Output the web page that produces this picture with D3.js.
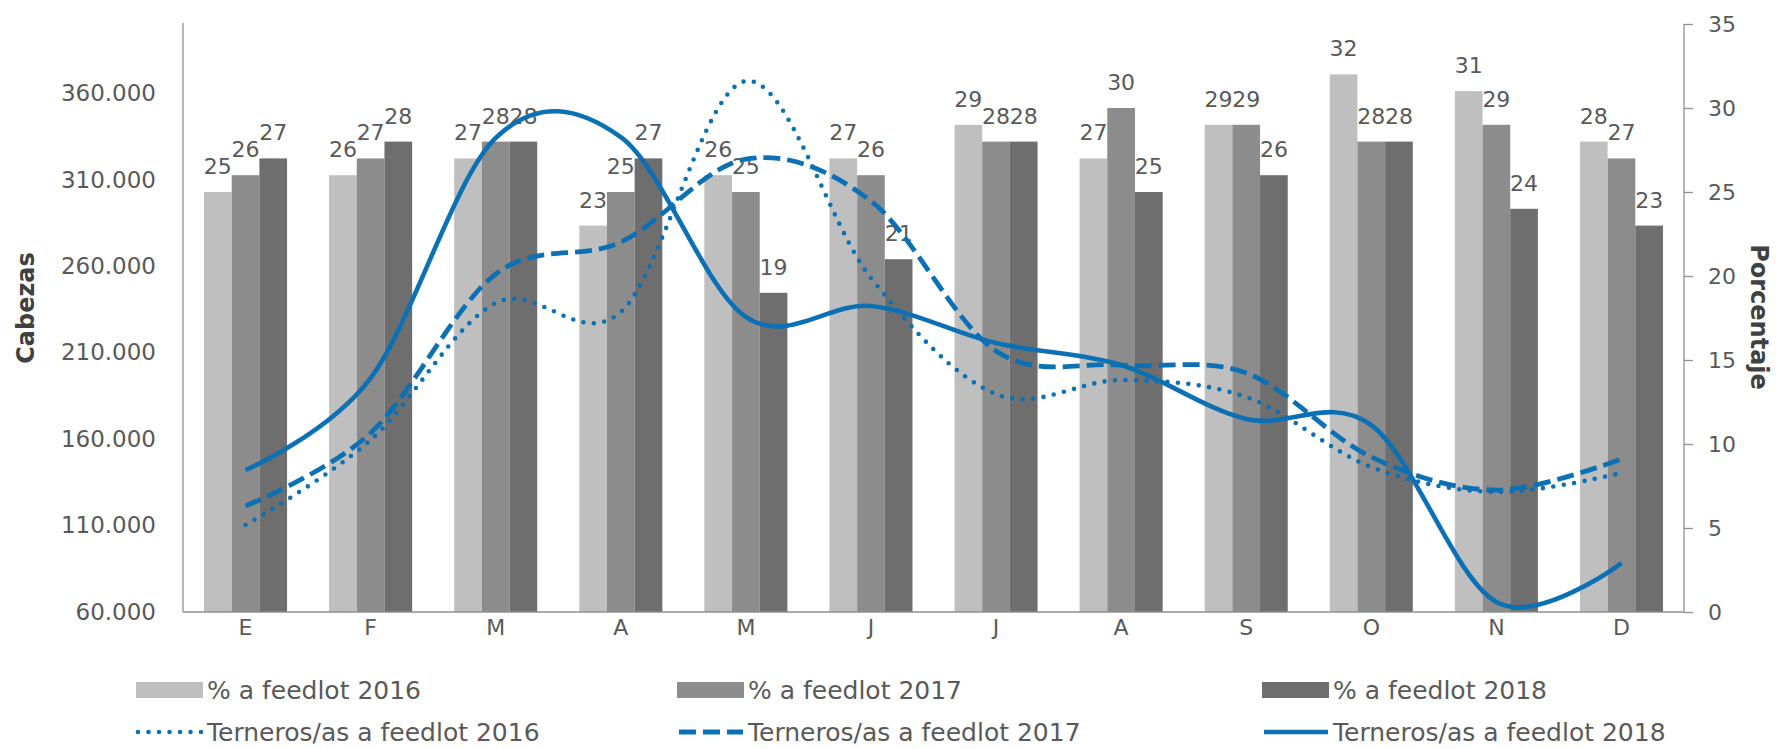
<!DOCTYPE html>
<html>
<head>
<meta charset="utf-8">
<script src="https://cdn.jsdelivr.net/npm/d3@7"></script>
<style>
  body { margin: 0; background: #fff; }
  text { font-family: "DejaVu Sans", sans-serif; fill: #595959; }
</style>
</head>
<body>
<script>
// months (Spanish initials)
var months = ["E", "F", "M", "A", "M", "J", "J", "A", "S", "O", "N", "D"]

// % a feedlot (right axis)
var pct2016 = [25, 26, 27, 23, 26, 27, 29, 27, 29, 32, 31, 28]
var pct2017 = [26, 27, 28, 25, 25, 26, 28, 30, 29, 28, 29, 27]
var pct2018 = [27, 28, 28, 27, 19, 21, 28, 25, 26, 28, 24, 23]

// Terneros/as a feedlot (left axis, cabezas)
var cab2016 = [110300, 159500, 238700, 233500, 367000, 253100, 186000, 194100, 184300, 143800, 129400, 140400]
var cab2017 = [121300, 163500, 255400, 273900, 321900, 297600, 210900, 202800, 198200, 149600, 130500, 148500]
var cab2018 = [142100, 195300, 334100, 334600, 230600, 236900, 215500, 202800, 171600, 168100, 65800, 88300]

var leftTicks = [60000, 110000, 160000, 210000, 260000, 310000, 360000]
var rightTicks = [0, 5, 10, 15, 20, 25, 30, 35]

var W = 1776, H = 749
var plotL = 183, plotR = 1684, plotT = 24, plotB = 612
var blue = "#0c71b4"
var axisColor = "#8f8f8f"

var svg = d3.select("body").append("svg").attr("width", W).attr("height", H)

var x = d3.scaleBand().domain(d3.range(12)).range([plotL, plotR])
  .paddingInner(0.336).paddingOuter(0.168)

var barSeries = [
  {name: "% a feedlot 2016", values: pct2016, color: "#bfbfbf"},
  {name: "% a feedlot 2017", values: pct2017, color: "#8c8c8c"},
  {name: "% a feedlot 2018", values: pct2018, color: "#6e6e6e"}
]
var lineSeries = [
  {name: "Terneros/as a feedlot 2016", values: cab2016, dash: "0 10.5", width: 4.6},
  {name: "Terneros/as a feedlot 2017", values: cab2017, dash: "17 7", width: 4.8},
  {name: "Terneros/as a feedlot 2018", values: cab2018, dash: null, width: 4.6}
]

var xs = d3.scaleBand().domain(d3.range(3)).range([0, x.bandwidth()])
var yR = d3.scaleLinear().domain([0, 35]).range([plotB, plotT])
var yL = d3.scaleLinear().domain([60000, 400000]).range([plotB, plotT])

var fmt = d3.formatLocale({decimal: ",", thousands: ".", grouping: [3], currency: ["$", ""]}).format(",")

// bars
barSeries.forEach(function(s, k) {
  svg.append("g").selectAll("rect").data(s.values).enter().append("rect")
    .attr("x", function(d, i) { return x(i) + xs(k) })
    .attr("y", function(d) { return yR(d) })
    .attr("width", xs.bandwidth())
    .attr("height", function(d) { return plotB - yR(d) })
    .attr("fill", s.color)
})

// bar labels
barSeries.forEach(function(s, k) {
  svg.append("g").selectAll("text").data(s.values).enter().append("text")
    .attr("x", function(d, i) { return x(i) + xs(k) + xs.bandwidth() / 2 })
    .attr("y", function(d) { return yR(d) - 18 })
    .attr("text-anchor", "middle")
    .style("font-size", "22px")
    .text(function(d) { return d })
})

// axes
var gl = svg.append("g").attr("transform", "translate(" + plotL + ",0)")
  .call(d3.axisLeft(yL).tickValues(leftTicks).tickFormat(fmt).tickSize(0).tickPadding(27))
gl.select(".domain").attr("d", "M0," + (plotT - 1) + "V" + plotB)

var gr = svg.append("g").attr("transform", "translate(" + plotR + ",0)")
  .call(d3.axisRight(yR).tickValues(rightTicks).tickSize(9).tickPadding(15))
gr.select(".domain").attr("d", "M0," + plotT + "V" + plotB)

var gb = svg.append("g").attr("transform", "translate(0," + plotB + ")")
  .call(d3.axisBottom(x).tickFormat(function(i) { return months[i] }).tickSize(0).tickPadding(7))
gb.select(".domain").attr("d", "M" + plotL + ",0H" + plotR)

svg.selectAll(".domain").attr("stroke", axisColor).attr("stroke-width", 1.3)
svg.selectAll(".tick line").attr("stroke", axisColor).attr("stroke-width", 1.3)
svg.selectAll(".tick text").style("font-size", "22px").attr("fill", "#595959")
  .style("font-family", "DejaVu Sans, sans-serif")
gl.selectAll(".tick text").style("font-size", "23px")

// lines
var lineFunc = d3.line()
  .curve(d3.curveCardinal.tension(0))
  .x(function(d, i) { return x(i) + x.bandwidth() / 2 })
  .y(function(d) { return yL(d) })

lineSeries.forEach(function(s) {
  svg.append("path")
    .attr("d", lineFunc(s.values))
    .attr("fill", "none")
    .attr("stroke", blue)
    .attr("stroke-width", s.width)
    .attr("stroke-dasharray", s.dash)
    .attr("stroke-linecap", s.dash && s.dash.indexOf("0 ") === 0 ? "round" : "butt")
})

// axis titles
svg.append("text")
  .attr("transform", "translate(34,308) rotate(-90)")
  .attr("text-anchor", "middle")
  .style("font-size", "24px").style("font-weight", "bold").style("fill", "#404040")
  .text("Cabezas")

svg.append("text")
  .attr("transform", "translate(1751,317) rotate(90)")
  .attr("text-anchor", "middle")
  .style("font-size", "24px").style("font-weight", "bold").style("fill", "#404040")
  .text("Porcentaje")

// legend
var legX = [136, 677, 1262]
var row1 = 690, row2 = 732
barSeries.forEach(function(s, k) {
  var g = svg.append("g").attr("transform", "translate(" + legX[k] + "," + row1 + ")")
  g.append("rect").attr("x", 0).attr("y", -8).attr("width", 67).attr("height", 16).attr("fill", s.color)
  g.append("text").attr("x", 71).attr("y", 9).style("font-size", "25px").text(s.name)
})
lineSeries.forEach(function(s, k) {
  var g = svg.append("g").attr("transform", "translate(" + legX[k] + "," + row2 + ")")
  g.append("line").attr("x1", 2).attr("x2", 66).attr("y1", 0).attr("y2", 0)
    .attr("stroke", blue).attr("stroke-width", s.width)
    .attr("stroke-dasharray", s.dash)
    .attr("stroke-linecap", s.dash && s.dash.indexOf("0 ") === 0 ? "round" : "butt")
  g.append("text").attr("x", 71).attr("y", 9).style("font-size", "25px").text(s.name)
})
</script>
</body>
</html>
